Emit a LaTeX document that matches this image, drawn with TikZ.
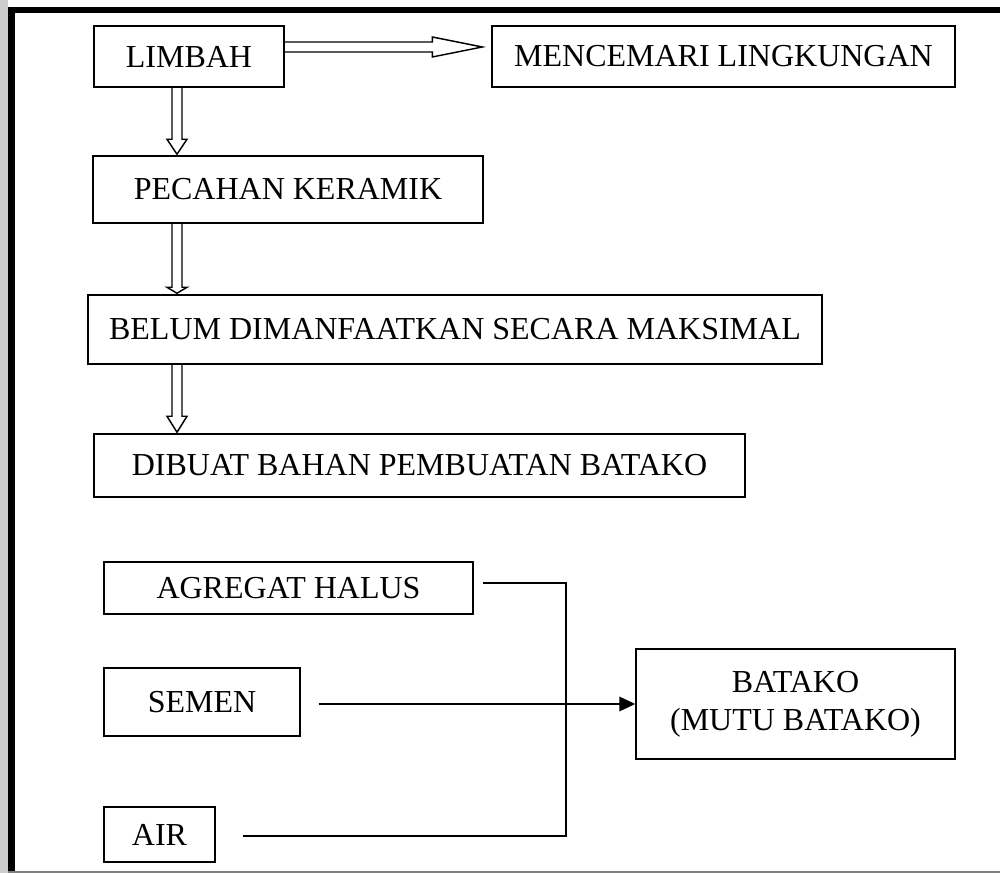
\documentclass[tikz,border=0pt]{standalone}
\usepackage{fontspec}
\setmainfont{Liberation Serif}
\usetikzlibrary{arrows.meta,calc}
\newcommand{\hollowdown}[4]{% #1 from node, #2 to node, #3 shaft centre x, #4 head length
  \draw[hollow] (#3-5,0 |- #1.south) -- ($(#3-5,0 |- #2.north)+(0,-#4)$)
    -- ($(#3-10,0 |- #2.north)+(0,-#4)$) -- ($(#3,0 |- #2.north)+(0,-1)$)
    -- ($(#3+10,0 |- #2.north)+(0,-#4)$) -- ($(#3+5,0 |- #2.north)+(0,-#4)$)
    -- (#3+5,0 |- #1.south);}
\begin{document}
\begin{tikzpicture}[x=0.75pt,y=-0.75pt,
  box/.style={draw,line width=1.1pt,inner sep=0pt,align=center,
    font=\fontsize{24}{28.5}\selectfont},
  hollow/.style={draw,line width=1.1pt,line join=miter},
  link/.style={draw,line width=1.1pt}]
\useasboundingbox (0,0) rectangle (1000,873);
% page frame
\fill[black!20] (0,0) rectangle (8,873);
\fill[black] (8,7) rectangle (15,873);
\fill[black] (8,7) rectangle (1000,13);
\fill[black!50] (8,871) rectangle (1000,873);
% boxes
\node[box,minimum width={190*0.75pt},minimum height={61*0.75pt}] (limbah) at (189,56.5) {LIMBAH};
\node[box,minimum width={463*0.75pt},minimum height={61*0.75pt}] (menc) at (723.5,56.5) {MENCEMARI LINGKUNGAN};
\node[box,minimum width={390*0.75pt},minimum height={67*0.75pt}] (pecahan) at (288,189.5) {PECAHAN KERAMIK};
\node[box,minimum width={734*0.75pt},minimum height={69*0.75pt}] (belum) at (455,329.5) {BELUM DIMANFAATKAN SECARA MAKSIMAL};
\node[box,minimum width={651*0.75pt},minimum height={63*0.75pt}] (dibuat) at (419.5,465.5) {DIBUAT BAHAN PEMBUATAN BATAKO};
\node[box,minimum width={369*0.75pt},minimum height={52*0.75pt}] (agregat) at (288.5,588) {AGREGAT HALUS};
\node[box,minimum width={196*0.75pt},minimum height={68*0.75pt}] (semen) at (202,702) {SEMEN};
\node[box,minimum width={111*0.75pt},minimum height={55*0.75pt}] (air) at (159.5,834.5) {AIR};
\node[box,minimum width={319*0.75pt},minimum height={110*0.75pt}] (batako) at (795.5,704) {BATAKO\\(MUTU BATAKO)};
% hollow arrows
\draw[hollow] ($(limbah.east)+(0,-14.5)$) -- ($(menc.west)+(-59,-14.5)$)
  -- ($(menc.west)+(-59,-19.5)$) -- ($(menc.west)+(-9,-9.5)$)
  -- ($(menc.west)+(-59,0.5)$) -- ($(menc.west)+(-59,-4.5)$)
  -- ($(limbah.east)+(0,-4.5)$);
\hollowdown{limbah}{pecahan}{177}{16}
\hollowdown{pecahan}{belum}{177}{7}
\hollowdown{belum}{dibuat}{177}{17}
% material lines
\coordinate (agout) at ($(agregat.east)+(9,-5)$);
\coordinate (semout) at ($(semen.east)+(18,2)$);
\coordinate (airout) at ($(air.east)+(27,1.5)$);
\draw[link] (agout) -| (airout -| 566,0) -- (airout);
\draw[link,-{Triangle[length=12pt,width=11pt]}] (semout) -- (semout -| batako.west);
\end{tikzpicture}
\end{document}
